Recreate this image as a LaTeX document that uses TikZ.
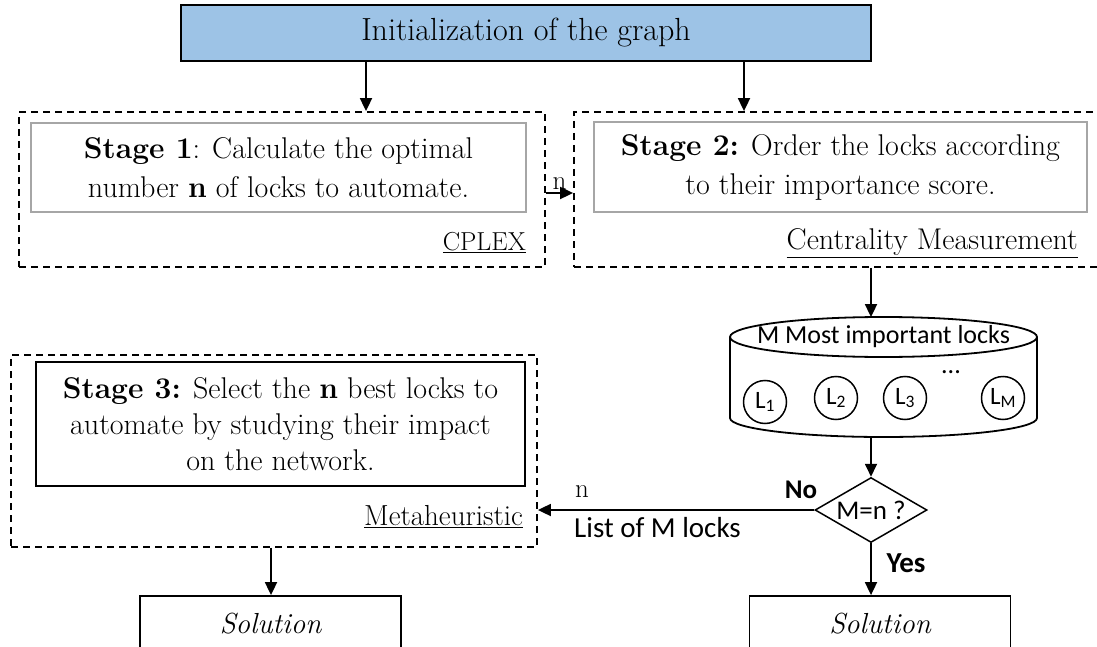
\documentclass[tikz,border=0pt]{standalone}
\usepackage{fontspec}
\newfontfamily\carlito{Carlito}
\usetikzlibrary{arrows.meta,shapes.geometric}
\definecolor{initblue}{RGB}{157,195,230}
\definecolor{boxgray}{RGB}{166,166,166}
\newcommand\myfs[2]{\fontsize{#1}{#2}\selectfont}
\begin{document}
\begin{tikzpicture}[x={(1pt,0)},y={(0,-1pt)},
  arr/.style={-{Triangle[length=13pt,width=12pt]},line width=1.8pt},
  dbox/.style={draw,dash pattern=on 7pt off 5pt,line width=1.8pt,inner sep=0pt},
  gbox/.style={draw=boxgray,line width=1.8pt,inner sep=0pt,align=center,font=\myfs{30}{39}},
  lbl/.style={font=\myfs{29}{32},inner sep=0pt},
  sans/.style={font=\carlito\myfs{26}{28},inner sep=0pt},
  lock/.style={circle,draw,line width=1.5pt,minimum size=43pt,inner sep=0pt,font=\carlito\myfs{25}{25}},
  solbox/.style={draw,line width=1.8pt,minimum width=261pt,minimum height=56pt,inner sep=0pt,font=\itshape\myfs{29}{32}}]
\useasboundingbox (0,0) rectangle (1097,647);

% top box
\node[draw,fill=initblue,line width=1.5pt,minimum width=690pt,minimum height=56pt,inner sep=0pt,font=\myfs{32}{36}] (init) at (526,33) {Initialization of the graph};

% stage 1
\node[dbox,minimum width=526pt,minimum height=155pt] (d1) at (282,189.5) {};
\node[gbox,minimum width=495pt,minimum height=89pt] (i1) at (278.5,167.5) {\textbf{Stage 1}: Calculate the optimal\\number \textbf{n} of locks to automate.};
\node[lbl,anchor=east,font=\myfs{26}{30}] (t1) at (526,243) {\underline{CPLEX}};

% stage 2
\node[dbox,minimum width=536pt,minimum height=155pt] (d2) at (842,189.5) {};
\node[gbox,minimum width=493pt,minimum height=90pt] (i2) at (840.5,167) {\textbf{Stage 2:} Order the locks according\\to their importance score.};
\node[lbl,anchor=east,font=\myfs{30}{32}] (t2) at (1078,243) {\underline{Centrality Measurement}};

\coordinate (ca) at (366,0);
\coordinate (cb) at (744,0);
\coordinate (cn) at (0,193);
\coordinate (cc) at (871,0);
\draw[arr] (init.south -| ca) -- (d1.north -| ca);
\draw[arr] (init.south -| cb) -- (d2.north -| cb);
\draw[arr] (d1.east |- cn) -- node[above,lbl,font=\myfs{27}{30},yshift=3pt] (nlab) {n} (d2.west |- cn);

% cylinder
\coordinate (cyltop) at (871,317.1);
\coordinate (cylbot) at (871,436.9);
\draw[line width=1.8pt] (730,337) -- (730,418) arc[start angle=180,end angle=0,x radius=153.5,y radius=19] -- (1037,337);
\draw[line width=1.8pt] (883.5,337) ellipse [x radius=153.5,y radius=20];
\node[sans] (cyltxt) at (883.5,337) {M Most important locks};
\draw[arr] (d2.south -| cc) -- (cyltop);

\node[lock] (l1) at (765,402) {L\textsubscript{1}};
\node[lock] (l2) at (836,398) {L\textsubscript{2}};
\node[lock] (l3) at (905,398) {L\textsubscript{3}};
\node[lock] (lm) at (1003,398) {L\textsubscript{M}};
\node[sans] (dots) at (951,372) {...};

% decision
\node[diamond,draw,line width=1.5pt,aspect=1.72,minimum width=112pt,minimum height=65pt,inner sep=0pt,font=\carlito\myfs{27}{27}] (dec) at (871,510) {M=n ?};
\draw[arr] (cylbot) -- (dec.north);

% stage 3
\node[dbox,minimum width=526pt,minimum height=192pt] (d3) at (274,451) {};
\node[draw,line width=1.3pt,inner sep=0pt,align=center,minimum width=489pt,minimum height=124pt,font=\myfs{30}{36}] (i3) at (280.5,424) {\textbf{Stage 3:} Select the \textbf{n} best locks to\\automate by studying their impact\\on the network.};
\node[lbl,anchor=east] (t3) at (523,517) {\underline{Metaheuristic}};

\draw[arr] (dec.west) -- (d3.east |- dec.west);
\node[sans,font=\carlito\bfseries\myfs{27}{28}] (no) at (801,490) {No};
\node[lbl,font=\myfs{27}{30}] (n2) at (582,492) {n};
\node[sans,anchor=west,font=\carlito\myfs{29}{30}] (lst) at (574,528) {List of M locks};

% solutions
\node[solbox] (s1) at (270.5,624) {Solution};
\node[solbox] (s2) at (880,624) {Solution};
\coordinate (cs) at (271,0);
\draw[arr] (d3.south -| cs) -- (s1.north -| cs);
\draw[arr] (dec.south) -- (s2.north -| dec.south);
\node[sans,font=\carlito\bfseries\myfs{29}{30}] (yes) at (906,563) {Yes};
\end{tikzpicture}
\end{document}
